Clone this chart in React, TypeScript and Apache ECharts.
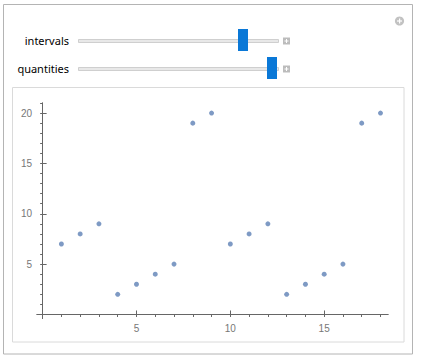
import React, { useEffect, useRef } from "react";
import * as echarts from "echarts";

const xValues = [1, 2, 3, 4, 5, 6, 7, 8, 9, 10, 11, 12, 13, 14, 15, 16, 17, 18];
const yValues = [7, 8, 9, 2, 3, 4, 5, 19, 20, 7, 8, 9, 2, 3, 4, 5, 19, 20];
const xMajorTicks = [5, 10, 15];
const xMinorTicks = [1, 2, 3, 4, 5, 6, 7, 8, 9, 10, 11, 12, 13, 14, 15, 16, 17, 18];
const yMajorTicks = [5, 10, 15, 20];
const yMinorTicks = [1, 2, 3, 4, 5, 6, 7, 8, 9, 10, 11, 12, 13, 14, 15, 16, 17, 18, 19, 20, 21];
const sliderLabels = ["intervals", "quantities"];

const AXIS = "#666666";
const LABEL = "#777777";
const POINT = "#5E81B5";
const THUMB = "#0A78D7";

function plusBox(x: number, y: number) {
  return [
    { type: "rect", shape: { x, y, width: 7, height: 7 }, style: { fill: "#bcbcbc" } },
    { type: "rect", shape: { x: x + 3, y: y + 1.5, width: 1, height: 4 }, style: { fill: "#fff" } },
    { type: "rect", shape: { x: x + 1.5, y: y + 3, width: 4, height: 1 }, style: { fill: "#fff" } },
  ];
}

export default function App() {
  const ref = useRef<HTMLDivElement>(null);
  useEffect(() => {
    if (!ref.current) return;
    const chart = echarts.init(ref.current, undefined, { renderer: "svg" });
    const data = xValues.map((x, i) => [x, yValues[i]]);
    const xCommon: any = {
      type: "value",
      min: -0.3,
      max: 18.4,
      splitLine: { show: false },
      axisLine: { show: true, onZero: true, onZeroAxisIndex: 0, lineStyle: { color: AXIS, width: 1 } },
    };
    const yCommon: any = {
      type: "value",
      min: -0.4,
      max: 21,
      splitLine: { show: false },
      axisLine: { show: true, onZero: true, onZeroAxisIndex: 0, lineStyle: { color: AXIS, width: 1 } },
    };
    const sliderGraphics: any[] = [];
    const rows = [
      { y: 40.5, thumbX: 238, trackY: 39, boxY: 37.5 },
      { y: 68.5, thumbX: 267, trackY: 67, boxY: 65.5 },
    ];
    rows.forEach((r, i) => {
      sliderGraphics.push({
        type: "text",
        x: 69,
        y: r.y,
        style: {
          text: sliderLabels[i],
          fill: "#000",
          font: '11px "Noto Sans"',
          textAlign: "right",
          textVerticalAlign: "middle",
        },
      });
      sliderGraphics.push({
        type: "rect",
        shape: { x: 78.5, y: r.trackY + 0.5, width: 200, height: 3 },
        style: { fill: "#e8e8e8", stroke: "#cfcfcf", lineWidth: 1 },
      });
      sliderGraphics.push({
        type: "rect",
        shape: { x: r.thumbX, y: r.trackY - 10, width: 10, height: 22 },
        style: { fill: THUMB },
      });
      sliderGraphics.push(...plusBox(283, r.boxY));
    });
    chart.setOption({
      animation: false,
      backgroundColor: "#ffffff",
      graphic: [
        { type: "rect", shape: { x: 3.5, y: 4.5, width: 409, height: 349.5 }, style: { fill: "none", stroke: "#b4b4b4", lineWidth: 1 } },
        { type: "rect", shape: { x: 12.5, y: 87.5, width: 391.5, height: 254.5 }, style: { fill: "none", stroke: "#dadada", lineWidth: 1 } },
        { type: "circle", shape: { cx: 399.5, cy: 21, r: 4.6 }, style: { fill: "#c2c2c2" } },
        { type: "rect", shape: { x: 399, y: 18.5, width: 1.2, height: 5 }, style: { fill: "#fff" } },
        { type: "rect", shape: { x: 397, y: 20.4, width: 5, height: 1.2 }, style: { fill: "#fff" } },
        ...sliderGraphics,
      ],
      grid: { left: 37, top: 103, width: 351, height: 215.5, containLabel: false },
      xAxis: [
        {
          ...xCommon,
          axisTick: { show: true, inside: true, length: 4, customValues: xMajorTicks, lineStyle: { color: AXIS } },
          axisLabel: { show: true, customValues: xMajorTicks, color: LABEL, fontSize: 10, fontFamily: "Liberation Sans", margin: 5 },
        },
        {
          ...xCommon,
          axisTick: { show: true, inside: true, length: 2.5, customValues: xMinorTicks, lineStyle: { color: AXIS } },
          axisLabel: { show: false },
        },
      ],
      yAxis: [
        {
          ...yCommon,
          axisTick: { show: true, inside: true, length: 4, customValues: yMajorTicks, lineStyle: { color: AXIS } },
          axisLabel: { show: true, customValues: yMajorTicks, color: LABEL, fontSize: 10, fontFamily: "Liberation Sans", margin: 5 },
        },
        {
          ...yCommon,
          axisTick: { show: true, inside: true, length: 2.5, customValues: yMinorTicks, lineStyle: { color: AXIS } },
          axisLabel: { show: false },
        },
      ],
      series: [
        {
          type: "scatter",
          xAxisIndex: 0,
          yAxisIndex: 0,
          data,
          symbol: "circle",
          symbolSize: 5,
          itemStyle: { color: POINT },
        },
      ],
    });
    return () => chart.dispose();
  }, []);
  return (
    <div
      ref={ref}
      style={{ position: "absolute", left: 0, top: 0, width: 422, height: 364 }}
    />
  );
}
